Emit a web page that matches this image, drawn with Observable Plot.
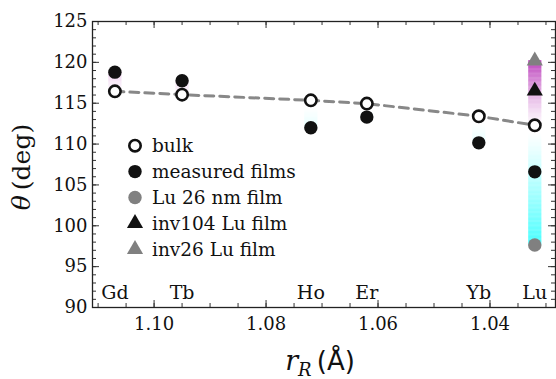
<!DOCTYPE html>
<html><head><meta charset="utf-8">
<script src="https://cdn.jsdelivr.net/npm/d3@7"></script>
<script src="https://cdn.jsdelivr.net/npm/@observablehq/plot@0.6"></script>
<style>
body{margin:0;background:#fff;}
#wrap{position:relative;width:556px;height:379px;}
</style></head><body><div id="wrap"></div>
<script>
const elements = ["Gd","Tb","Ho","Er","Yb","Lu"];
const radius = [1.107,1.095,1.072,1.062,1.042,1.032];
const bulkTheta = [116.45,116.05,115.35,114.95,113.4,112.3];
const filmTheta = [118.8,117.75,112.0,113.3,110.15,106.6];
const lu26Theta = [97.65];
const inv104Theta = [116.5];
const inv26Theta = [120.2];
const legendLabels = ["bulk","measured films","Lu 26 nm film","inv104 Lu film","inv26 Lu film"];
const yMajor = [90,95,100,105,110,115,120,125];
const xMajor = [1.04,1.06,1.08,1.10];
const xTickLabels = ["1.04","1.06","1.08","1.10"];

const yMinor = d3.range(90,126);
const xMinor = d3.range(206,223).map(k => +(k*0.005).toFixed(3));

const pinkI = d3.interpolateRgb("#ffffff","#c04cc0");
const cyanI = d3.interpolateRgb("#ffffff","#45ffff");
function colorFor(d){
  return d >= 0 ? pinkI(Math.min(1, Math.pow(d/8.5, 1.4))) : cyanI(Math.min(1, Math.pow(-d/14, 1.15)));
}
const segs = [];
elements.forEach((e,i) => {
  const isLu = e === "Lu";
  const lo = isLu ? lu26Theta[0] : Math.min(bulkTheta[i], filmTheta[i]);
  const hi = isLu ? inv26Theta[0] : Math.max(bulkTheta[i], filmTheta[i]);
  const c0 = bulkTheta[i] - 0.9;
  for (let v = lo; v < hi; v += 0.1) {
    segs.push({x: radius[i], y1: v, y2: Math.min(hi, v + 0.15), c: colorFor(v + 0.05 - c0)});
  }
});

const FONT = "DejaVu Serif";
const ink = "#111";
const tickInk = "#333";
const lu = elements.length - 1;
const W = 556, H = 379, ML = 92, MR = 1, MT = 21, MB = 72;
const FW = W - ML - MR, FH = H - MT - MB;
const major = 7, minor = 4;

const plot = Plot.plot({
  width: W, height: H,
  marginLeft: ML, marginRight: MR, marginTop: MT, marginBottom: MB,
  style: {fontFamily: FONT, fontSize: "18px", color: ink, background: "#fff"},
  x: {domain: [1.111, 1.0283]},
  y: {domain: [90, 125]},
  color: {type: "identity"},
  marks: [
    Plot.ruleX(segs, {x: "x", y1: "y1", y2: "y2", stroke: "c", strokeWidth: 13}),
    Plot.line(elements, {x: radius, y: bulkTheta, stroke: "#888", strokeWidth: 3, strokeDasharray: "9,6"}),
    Plot.dot(elements, {x: radius, y: bulkTheta, r: 5.7, fill: "white", stroke: ink, strokeWidth: 2.6}),
    Plot.dot(elements, {x: radius, y: filmTheta, r: 6.7, fill: ink}),
    Plot.dot(lu26Theta, {x: [radius[lu]], y: d => d, r: 6.7, fill: "#808080"}),
    Plot.dot(inv104Theta, {x: [radius[lu]], y: d => d, r: 6, symbol: "triangle", fill: ink}),
    Plot.dot(inv26Theta, {x: [radius[lu]], y: d => d, r: 6, symbol: "triangle", fill: "#808080"}),
    Plot.text(elements, {x: radius, text: d => d, frameAnchor: "bottom", dy: -15, fontSize: 19, fill: ink, lineAnchor: "middle"}),
    // inward ticks on all four sides
    Plot.ruleX(xMinor, {x: d => d, insetTop: FH - minor, stroke: tickInk}),
    Plot.ruleX(xMajor, {x: d => d, insetTop: FH - major, stroke: tickInk}),
    Plot.ruleX(xMinor, {x: d => d, insetBottom: FH - minor, stroke: tickInk}),
    Plot.ruleX(xMajor, {x: d => d, insetBottom: FH - major, stroke: tickInk}),
    Plot.ruleY(yMinor, {y: d => d, insetRight: FW - minor, stroke: tickInk}),
    Plot.ruleY(yMajor, {y: d => d, insetRight: FW - major, stroke: tickInk}),
    Plot.ruleY(yMinor, {y: d => d, insetLeft: FW - minor, stroke: tickInk}),
    Plot.ruleY(yMajor, {y: d => d, insetLeft: FW - major, stroke: tickInk}),
    Plot.axisY(yMajor, {anchor: "left", tickSize: 0, tickPadding: 5, label: null, fontSize: 18, fill: ink}),
    Plot.axisX(xMajor, {anchor: "bottom", tickSize: 0, tickPadding: 10, label: null, fontSize: 18, fill: ink, tickFormat: (d, i) => xTickLabels[i]}),
    Plot.frame({stroke: "#222", strokeWidth: 1.3})
  ]
});
document.getElementById("wrap").appendChild(plot);

const svg = d3.select(plot);
// legend
const legendSyms = [
  {type: d3.symbolCircle, size: Math.PI*5.7*5.7, fill: "white", stroke: ink, sw: 2.6},
  {type: d3.symbolCircle, size: Math.PI*6.7*6.7, fill: ink, stroke: "none", sw: 0},
  {type: d3.symbolCircle, size: Math.PI*6.7*6.7, fill: "#808080", stroke: "none", sw: 0},
  {type: d3.symbolTriangle, size: Math.PI*36, fill: ink, stroke: "none", sw: 0},
  {type: d3.symbolTriangle, size: Math.PI*36, fill: "#808080", stroke: "none", sw: 0}
];
const lg = svg.append("g").attr("font-family", FONT).attr("font-size", 18.5).attr("fill", ink).attr("text-anchor", "start");
legendLabels.forEach((lab, i) => {
  const yy = 145.7 + i*25.9;
  lg.append("path").attr("d", d3.symbol(legendSyms[i].type, legendSyms[i].size)())
    .attr("transform", `translate(135,${yy})`)
    .attr("fill", legendSyms[i].fill).attr("stroke", legendSyms[i].stroke).attr("stroke-width", legendSyms[i].sw);
  lg.append("text").attr("x", 152).attr("y", yy).attr("dy", "0.35em").attr("text-anchor", "start").text(lab);
});
// y axis title
const yt = svg.append("text").attr("transform", "translate(30,167) rotate(-90)")
  .attr("text-anchor", "middle").attr("font-family", FONT).attr("font-size", 25).attr("fill", ink);
yt.append("tspan").attr("font-style", "italic").text("θ");
yt.append("tspan").text("\u2009(deg)");
// x axis title
const xt = svg.append("text").attr("x", 320).attr("y", 370)
  .attr("text-anchor", "middle").attr("font-family", FONT).attr("font-size", 27).attr("fill", ink);
xt.append("tspan").attr("font-style", "italic").text("r");
xt.append("tspan").attr("font-style", "italic").attr("font-size", 18).attr("dy", 6).text("R");
xt.append("tspan").attr("dy", -6).attr("font-family", "DejaVu Sans").attr("font-size", 26).text("\u2009(Å)");
</script></body></html>
